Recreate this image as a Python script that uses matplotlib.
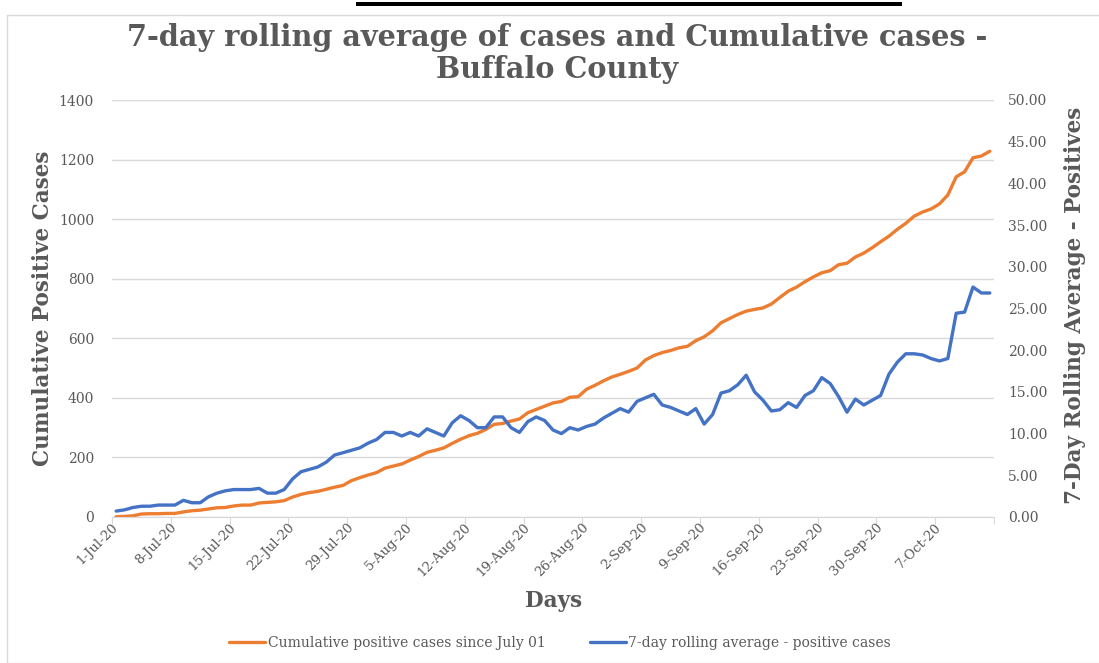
import numpy as np
import pandas as pd
import matplotlib
matplotlib.use('Agg')
import matplotlib.pyplot as plt
from matplotlib.patches import Rectangle

# ---- Data -----------------------------------------------------------------
dates = pd.date_range('2020-07-01', '2020-10-13', freq='D')

cumulative_cases = [
    1, 2, 4, 10, 11, 11, 12, 12, 17, 21, 23, 27, 31, 32, 37, 40, 40, 47,
    49, 51, 55, 67, 76, 82, 86, 93, 100, 106, 122, 132, 141, 149, 164, 171, 178,
    191, 203, 217, 224, 232, 247, 261, 273, 281, 294, 311, 314, 322, 329, 350, 361, 372,
    383, 388, 402, 404, 429, 442, 457, 470, 479, 489, 500, 527, 542, 552, 559, 568, 573, 592,
    605, 625, 652, 666, 680, 691, 697, 702, 715, 737, 758, 772, 790, 806, 820, 827, 847,
    852, 873, 886, 904, 924, 943, 966, 986, 1010, 1024, 1034, 1051, 1081, 1142, 1159, 1206, 1212, 1228,
]

rolling_avg = [
    0.71, 0.86, 1.14, 1.29, 1.29, 1.43, 1.43, 1.43, 2.00, 1.71, 1.71, 2.43, 2.86, 3.14, 3.29, 3.29, 3.29, 3.43,
    2.86, 2.86, 3.29, 4.57, 5.43, 5.71, 6.00, 6.57, 7.43, 7.71, 8.00, 8.29, 8.86, 9.29, 10.14, 10.14, 9.71,
    10.14, 9.71, 10.57, 10.14, 9.71, 11.29, 12.14, 11.57, 10.71, 10.71, 12.00, 12.00, 10.71, 10.14, 11.43, 12.00, 11.57,
    10.43, 10.00, 10.71, 10.43, 10.86, 11.14, 11.86, 12.43, 13.00, 12.57, 13.86, 14.29, 14.71, 13.43, 13.14, 12.71, 12.29, 13.00,
    11.14, 12.29, 14.86, 15.14, 15.86, 17.00, 15.00, 14.00, 12.71, 12.86, 13.71, 13.14, 14.57, 15.14, 16.71, 16.00, 14.43,
    12.57, 14.14, 13.43, 14.00, 14.57, 17.14, 18.57, 19.57, 19.57, 19.43, 19.00, 18.71, 19.00, 24.43, 24.57, 27.57, 26.86, 26.86,
]

left_ticks = [0, 200, 400, 600, 800, 1000, 1200, 1400]
right_ticks = [0, 5, 10, 15, 20, 25, 30, 35, 40, 45, 50]

# ---- Style ---------------------------------------------------------------
ORANGE = '#ED7D31'
BLUE = '#4472C4'
GRAY = '#595959'
GRID = '#d9d9d9'
FONT = ['DejaVu Serif']

plt.rcParams['font.family'] = FONT

W, H = 1099, 663
fig = plt.figure(figsize=(W / 100, H / 100), dpi=100)

# chart frame and the clipped underline from the page above
fig.patches.append(Rectangle((7 / W, 0), 1, 1 - 15 / H, transform=fig.transFigure,
                             fill=False, edgecolor=GRID, lw=1))
fig.patches.append(Rectangle((356 / W, 1 - 6 / H), 546 / W, 4 / H, transform=fig.transFigure,
                             color='black', lw=0))

ax = fig.add_axes([112 / W, 1 - 517 / H, (994 - 112) / W, 417 / H])
x = np.arange(len(dates))

l1, = ax.plot(x, cumulative_cases, color=ORANGE, lw=2.4, solid_joinstyle='round',
              solid_capstyle='round', label='Cumulative positive cases since July 01')
ax.set_xlim(-0.5, len(x) - 0.5)
ax.set_ylim(0, 1400)
ax.set_yticks(left_ticks)
ax.grid(axis='y', color=GRID, lw=1)
ax.set_axisbelow(True)

ax2 = ax.twinx()
l2, = ax2.plot(x, rolling_avg, color=BLUE, lw=2.4, solid_joinstyle='round',
               solid_capstyle='round', label='7-day rolling average - positive cases')
ax2.set_ylim(0, 50)
ax2.set_yticks(right_ticks)
ax2.set_yticklabels([f'{v:.2f}' for v in right_ticks])

for a in (ax, ax2):
    for s in ('top', 'left', 'right'):
        a.spines[s].set_visible(False)
    a.spines['bottom'].set_color(GRID)
    a.tick_params(axis='y', length=0, labelcolor=GRAY, labelsize=10)
ax.tick_params(axis='y', pad=13)
ax2.tick_params(axis='y', pad=10)

# x axis: tick marks at week boundaries, labels on each week's first day
ax.set_xticks(np.arange(-0.5, len(x), 7))
ax.set_xticklabels([])
ax.tick_params(axis='x', which='major', length=5, color=GRID)
week_idx = np.arange(0, len(x) - 6, 7)
ax.set_xticks(week_idx, minor=True)
ax.set_xticklabels([f"{dates[i].day}-{dates[i].strftime('%b')}-20" for i in week_idx],
                   minor=True, rotation=45, ha='right', va='center', rotation_mode='anchor')
ax.tick_params(axis='x', which='minor', length=0, pad=6, labelcolor=GRAY, labelsize=9.5)

fig.text(0.507, 1 - 53.5 / H, '7-day rolling average of cases and Cumulative cases -\nBuffalo County',
         ha='center', va='center', fontsize=20.7, weight='bold', color=GRAY, linespacing=1.1)
fig.text(43 / W, 1 - 308 / H, 'Cumulative Positive Cases', rotation=90, ha='center', va='center',
         fontsize=15.5, weight='bold', color=GRAY)
fig.text(1075 / W, 1 - 305 / H, '7-Day Rolling Average - Positives', rotation=90, ha='center',
         va='center', fontsize=15.5, weight='bold', color=GRAY)
fig.text(554 / W, 1 - 601 / H, 'Days', ha='center', va='center', fontsize=15.5, weight='bold', color=GRAY)

leg = fig.legend(handles=[l1, l2], loc='center', bbox_to_anchor=(560 / W, 1 - 643 / H), ncol=2,
                 frameon=False, fontsize=10, handlelength=2.6, handletextpad=0.15, columnspacing=3.2)
for t in leg.get_texts():
    t.set_color(GRAY)

fig.savefig('out.png', dpi=100)
